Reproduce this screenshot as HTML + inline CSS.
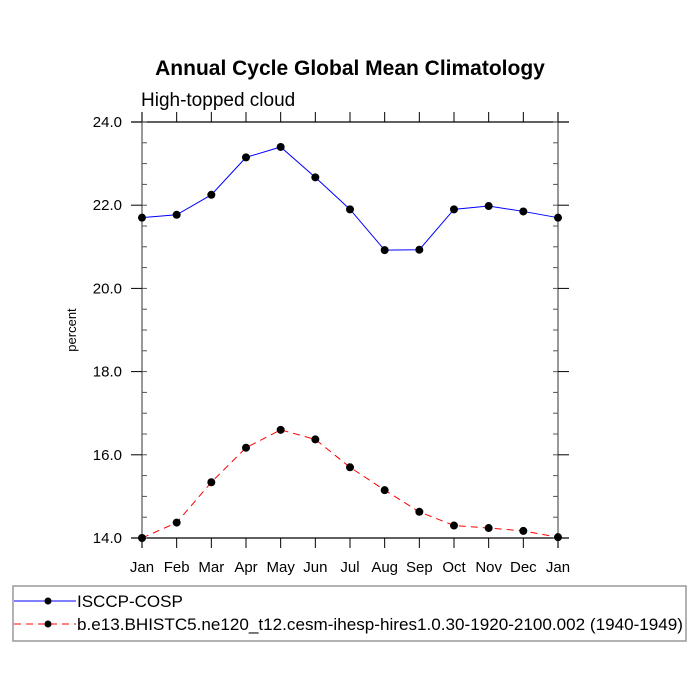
<!DOCTYPE html>
<html><head><meta charset="utf-8"><style>
body{margin:0;background:#fff;}
svg{display:block;font-family:"Liberation Sans",Arial,sans-serif;}
</style></head><body>
<svg id="chart" width="700" height="700" xmlns="http://www.w3.org/2000/svg">
<text x="350" y="75" text-anchor="middle" font-size="21" font-weight="bold">Annual Cycle Global Mean Climatology</text>
<text x="141" y="106" font-size="19">High-topped cloud</text>
<text transform="translate(76,330) rotate(-90)" text-anchor="middle" font-size="13">percent</text>
<g id="axes"></g>
<g id="series"></g>
<rect x="13" y="586" width="673" height="55" fill="none" stroke="#999" stroke-width="1.5"/>
<g>
<line x1="14" y1="601" x2="76" y2="601" stroke="#00f" stroke-width="1"/>
<circle cx="48" cy="601" r="3.5" fill="#000"/>
<text x="77" y="607" font-size="17">ISCCP-COSP</text>
</g>
<g>
<line x1="14" y1="624" x2="76" y2="624" stroke="#f00" stroke-width="1" stroke-dasharray="7,5"/>
<circle cx="48" cy="624" r="3.5" fill="#000"/>
<text x="77" y="630" font-size="17" textLength="606" lengthAdjust="spacingAndGlyphs">b.e13.BHISTC5.ne120_t12.cesm-ihesp-hires1.0.30-1920-2100.002 (1940-1949)</text>
</g>
</svg>
<script>
const months=["Jan","Feb","Mar","Apr","May","Jun","Jul","Aug","Sep","Oct","Nov","Dec","Jan"];
const obsValues=[21.7,21.77,22.25,23.15,23.4,22.67,21.9,20.92,20.93,21.9,21.98,21.85,21.7];
const modelValues=[14.0,14.37,15.34,16.17,16.6,16.37,15.7,15.15,14.63,14.3,14.24,14.17,14.02];
const yTicks=[14,16,18,20,22,24];
const yTickLabels=["14.0","16.0","18.0","20.0","22.0","24.0"];
const NS="http://www.w3.org/2000/svg";
const L=142,R=558,T=122,B=538,yMin=14,yMax=24;
function xs(i){return L+(R-L)*i/(months.length-1);}
function ys(v){return B-(v-yMin)/(yMax-yMin)*(B-T);}
function mk(tag,attrs,parent){const e=document.createElementNS(NS,tag);for(const k in attrs)e.setAttribute(k,attrs[k]);parent.appendChild(e);return e;}
const ax=document.getElementById('axes');
let e;
e=mk('line',{x1:131,y1:T,x2:569,y2:T,stroke:'#000','stroke-width':1.2},ax);


e=mk('line',{x1:131,y1:B,x2:569,y2:B,stroke:'#000','stroke-width':1.2},ax);


e=mk('line',{x1:L,y1:112,x2:L,y2:548,stroke:'#555','stroke-width':1.2},ax);


e=mk('line',{x1:R,y1:112,x2:R,y2:548,stroke:'#555','stroke-width':1.2},ax);


months.forEach((m,i)=>{
  const x=xs(i);
  mk('line',{x1:x,y1:112,x2:x,y2:T,stroke:'#000'},ax);
  mk('line',{x1:x,y1:B,x2:x,y2:548,stroke:'#000'},ax);
  const t=mk('text',{x:x,y:572,'text-anchor':'middle','font-size':15},ax);
  t.textContent=m;
  
  
});
for(let v=yMin;v<=yMax+1e-9;v+=0.5){
  const y=ys(v);
  mk('line',{x1:L,y1:y,x2:L+5,y2:y,stroke:'#555'},ax);
  mk('line',{x1:R-5,y1:y,x2:R,y2:y,stroke:'#555'},ax);
}
yTicks.forEach((v,i)=>{
  const y=ys(v);
  mk('line',{x1:131,y1:y,x2:L,y2:y,stroke:'#000'},ax);
  mk('line',{x1:R,y1:y,x2:569,y2:y,stroke:'#000'},ax);
  const t=mk('text',{x:122,y:y+5,'text-anchor':'end','font-size':15},ax);
  t.textContent=yTickLabels[i];
  
  
});
const sg=document.getElementById('series');
function drawSeries(vals,color,dash,name){
  const g=mk('g',{},sg);
  
  
  const pts=vals.map((v,i)=>xs(i)+','+ys(v)).join(' ');
  const a={points:pts,fill:'none',stroke:color,'stroke-width':1};
  if(dash)a['stroke-dasharray']=dash;
  mk('polyline',a,g);
  vals.forEach((v,i)=>{
    const c=mk('circle',{cx:xs(i),cy:ys(v),r:4,fill:'#000'},g);
    
    
  });
}
drawSeries(obsValues,'#00f',null,'series-isccp-cosp');
drawSeries(modelValues,'#f00','7,5','series-model');
</script>
</body></html>
